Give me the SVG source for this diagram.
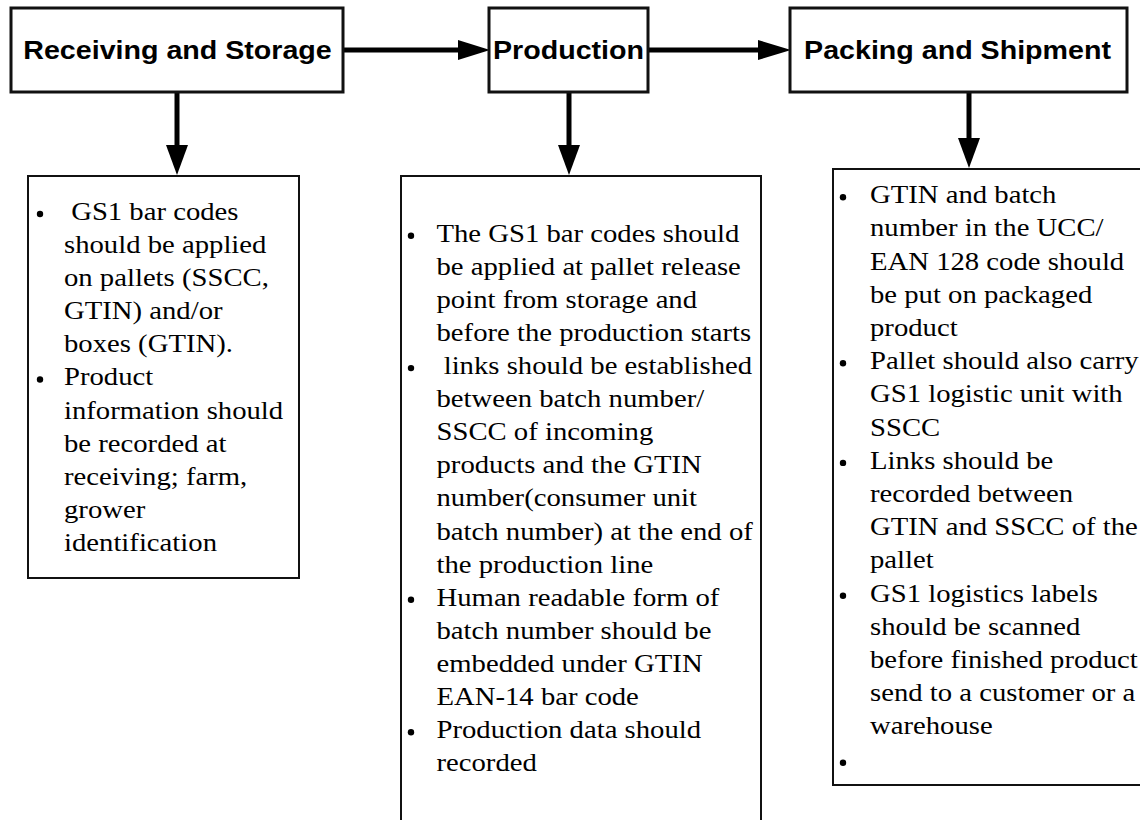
<svg xmlns="http://www.w3.org/2000/svg" width="1140" height="820" viewBox="0 0 1140 820">
<style>
.hdr{fill:#fff;stroke:#111;stroke-width:3}
.box{fill:#fff;stroke:#111;stroke-width:2}
.ht{font-family:"Liberation Sans",Arial,sans-serif;font-weight:bold;font-size:25px;fill:#000;text-anchor:middle}
.bt{font-family:"Liberation Serif","Times New Roman",serif;font-size:25px;fill:#000}
.ln{stroke:#000;stroke-width:5;fill:none}
.hd{fill:#000}
.bul{fill:#000}
</style>
<g id="connectors">
<line class="ln" x1="343" y1="50" x2="462" y2="50"/>
<polygon class="hd" points="458,40 490,50 458,60"/>
<line class="ln" x1="648" y1="50" x2="762" y2="50"/>
<polygon class="hd" points="758,40 791,50 758,60"/>
<line class="ln" x1="177" y1="92" x2="177" y2="148"/>
<polygon class="hd" points="166,145 188,145 177,175"/>
<line class="ln" x1="569" y1="92" x2="569" y2="148"/>
<polygon class="hd" points="558,145 580,145 569,175"/>
<line class="ln" x1="969" y1="92" x2="969" y2="141"/>
<polygon class="hd" points="958,138 980,138 969,168"/>
</g>
<g id="n1">
<rect class="hdr" x="11" y="8" width="332" height="84"/>
<text class="ht" transform="matrix(1.145 0 0 1 177.5 59)" x="0" y="0">Receiving and Storage</text>
</g>
<g id="n2">
<rect class="hdr" x="489" y="8" width="159" height="84"/>
<text class="ht" transform="matrix(1.145 0 0 1 568.5 59)" x="0" y="0">Production</text>
</g>
<g id="n3">
<rect class="hdr" x="790" y="8" width="337" height="84"/>
<text class="ht" transform="matrix(1.145 0 0 1 957.5 59)" x="0" y="0">Packing and Shipment</text>
</g>
<g id="n4">
<rect class="box" x="28" y="176" width="271" height="402"/>
<circle class="bul" cx="40" cy="214" r="3.2"/>
<circle class="bul" cx="40" cy="379.5" r="3.2"/>
<g transform="matrix(1.148 0 0 1 64 0)">
<text class="bt" xml:space="preserve" x="0" y="220"> GS1 bar codes</text>
<text class="bt" x="0" y="253.1">should be applied</text>
<text class="bt" x="0" y="286.2">on pallets (SSCC,</text>
<text class="bt" x="0" y="319.3">GTIN) and/or</text>
<text class="bt" x="0" y="352.4">boxes (GTIN).</text>
<text class="bt" x="0" y="385.5">Product</text>
<text class="bt" x="0" y="418.6">information should</text>
<text class="bt" x="0" y="451.7">be recorded at</text>
<text class="bt" x="0" y="484.8">receiving; farm,</text>
<text class="bt" x="0" y="517.9">grower</text>
<text class="bt" x="0" y="551">identification</text>
</g>
</g>
<g id="n5">
<rect class="box" x="401" y="176" width="360" height="660"/>
<circle class="bul" cx="411" cy="235.7" r="3.2"/>
<circle class="bul" cx="411" cy="368.1" r="3.2"/>
<circle class="bul" cx="411" cy="599.8" r="3.2"/>
<circle class="bul" cx="411" cy="732.2" r="3.2"/>
<g transform="matrix(1.148 0 0 1 436.5 0)">
<text class="bt" x="0" y="241.7">The GS1 bar codes should</text>
<text class="bt" x="0" y="274.8">be applied at pallet release</text>
<text class="bt" x="0" y="307.9">point from storage and</text>
<text class="bt" x="0" y="341">before the production starts</text>
<text class="bt" xml:space="preserve" x="0" y="374.1"> links should be established</text>
<text class="bt" x="0" y="407.2">between batch number/</text>
<text class="bt" x="0" y="440.3">SSCC of incoming</text>
<text class="bt" x="0" y="473.4">products and the GTIN</text>
<text class="bt" x="0" y="506.5">number(consumer unit</text>
<text class="bt" x="0" y="539.6">batch number) at the end of</text>
<text class="bt" x="0" y="572.7">the production line</text>
<text class="bt" x="0" y="605.8">Human readable form of</text>
<text class="bt" x="0" y="638.9">batch number should be</text>
<text class="bt" x="0" y="672">embedded under GTIN</text>
<text class="bt" x="0" y="705.1">EAN-14 bar code</text>
<text class="bt" x="0" y="738.2">Production data should</text>
<text class="bt" x="0" y="771.3">recorded</text>
</g>
</g>
<g id="n6">
<rect class="box" x="833" y="169" width="320" height="616"/>
<circle class="bul" cx="843" cy="197.3" r="3.2"/>
<circle class="bul" cx="843" cy="363.3" r="3.2"/>
<circle class="bul" cx="843" cy="462.9" r="3.2"/>
<circle class="bul" cx="843" cy="595.7" r="3.2"/>
<circle class="bul" cx="843" cy="762.7" r="3.2"/>
<g transform="matrix(1.148 0 0 1 870 0)">
<text class="bt" x="0" y="203.3">GTIN and batch</text>
<text class="bt" x="0" y="236.5">number in the UCC/</text>
<text class="bt" x="0" y="269.7">EAN 128 code should</text>
<text class="bt" x="0" y="302.9">be put on packaged</text>
<text class="bt" x="0" y="336.1">product</text>
<text class="bt" x="0" y="369.3">Pallet should also carry</text>
<text class="bt" x="0" y="402.5">GS1 logistic unit with</text>
<text class="bt" x="0" y="435.7">SSCC</text>
<text class="bt" x="0" y="468.9">Links should be</text>
<text class="bt" x="0" y="502.1">recorded between</text>
<text class="bt" x="0" y="535.3">GTIN and SSCC of the</text>
<text class="bt" x="0" y="568.5">pallet</text>
<text class="bt" x="0" y="601.7">GS1 logistics labels</text>
<text class="bt" x="0" y="634.9">should be scanned</text>
<text class="bt" x="0" y="668.1">before finished product</text>
<text class="bt" x="0" y="701.3">send to a customer or a</text>
<text class="bt" x="0" y="734.5">warehouse</text>
</g>
</g>
</svg>
